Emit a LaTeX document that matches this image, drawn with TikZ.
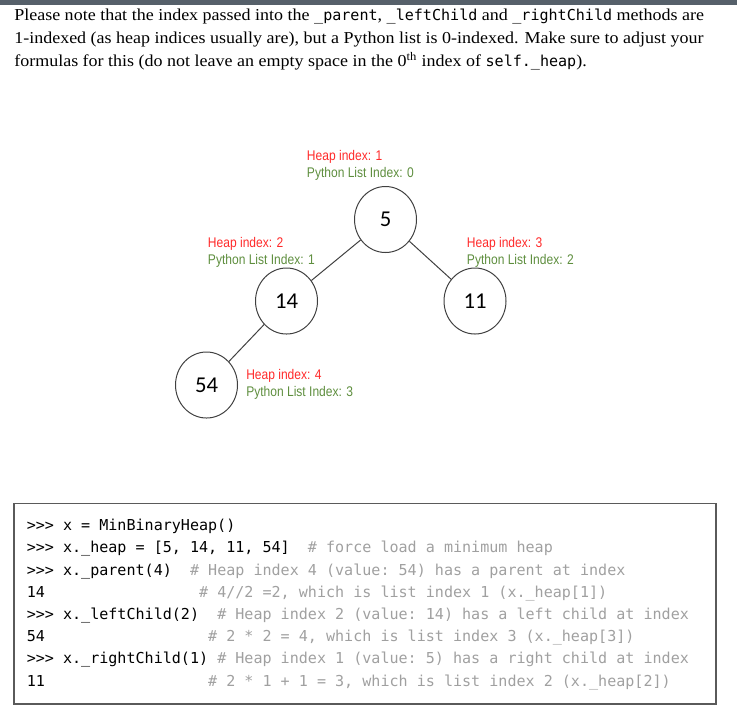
\documentclass[tikz,border=0pt]{standalone}
\usepackage{fontspec}
\setmainfont{Liberation Serif}[FakeStretch=1.08]
\setmonofont{DejaVu Sans Mono}
\newfontfamily\labelfont[FakeStretch=0.86]{Liberation Sans}
\newfontfamily\keyfont{Carlito}
\usetikzlibrary{shapes.geometric}

\definecolor{heapred}{HTML}{FF2A2A}
\definecolor{listgreen}{HTML}{5E8E3E}
\definecolor{commentgray}{HTML}{A0A0A0}
\definecolor{edgegray}{HTML}{404040}
\definecolor{barslate}{HTML}{56606A}
\definecolor{boxgray}{HTML}{5A5A5A}

\newcommand{\codefont}{\ttfamily\fontsize{11.3pt}{13pt}\selectfont}
\newcommand{\cmt}[1]{\textcolor{commentgray}{#1}}

\begin{document}
\begin{tikzpicture}[
        x=0.75pt, y=-0.75pt,
        prose/.style={anchor=base west, inner sep=0, font=\fontsize{12.5pt}{14pt}\selectfont},
        heapnode/.style={draw=edgegray, line width=0.75pt, ellipse, inner sep=0, minimum width=46.5pt, minimum height=49.5pt, font=\keyfont\fontsize{17pt}{20pt}\selectfont},
        indexlabel/.style={anchor=base west, inner sep=0, align=left, font=\labelfont\fontsize{10.5pt}{13.2pt}\selectfont},
        branch/.style={draw=edgegray, line width=0.75pt},
        codeline/.style={anchor=base west, inner sep=0, font=\codefont}
    ]
        \path[use as bounding box] (0, 0) rectangle (737, 719);
        \fill[barslate] (0, 0) rectangle (737, 4.5);

        % note above the tree
        \node[prose] (note1) at (14, 20.5) {Please note that the index passed into the {\codefont\_parent}, {\codefont\_leftChild} and {\codefont\_rightChild} methods are};
        \node[prose] (note2) at (14, 43.5) {1-indexed (as heap indices usually are), but a Python list is 0-indexed. Make sure to adjust your};
        \node[prose] (note3) at (14, 66.5) {formulas for this (do not leave an empty space in the 0\textsuperscript{th} index of {\codefont self.\_heap}).};

        % the heap
        \node[heapnode] (n5) at (385.5, 219.5) {5};
        \node[heapnode] (n14) at (286.5, 301) {14};
        \node[heapnode] (n11) at (475, 301) {11};
        \node[heapnode] (n54) at (206.5, 385) {54};

        \draw[branch] (n5) -- (n14);
        \draw[branch] (n5) -- (n11);
        \draw[branch] (n14) -- (n54);

        % base anchor sits on the second line
        \node[indexlabel] (lab5) at (306.7, 177.6) {\textcolor{heapred}{Heap index: 1}\\\textcolor{listgreen}{Python List Index: 0}};
        \node[indexlabel] (lab14) at (207.7, 264.9) {\textcolor{heapred}{Heap index: 2}\\\textcolor{listgreen}{Python List Index: 1}};
        \node[indexlabel] (lab11) at (466.7, 264.9) {\textcolor{heapred}{Heap index: 3}\\\textcolor{listgreen}{Python List Index: 2}};
        \node[indexlabel] (lab54) at (246, 396.9) {\textcolor{heapred}{Heap index: 4}\\\textcolor{listgreen}{Python List Index: 3}};

        % interpreter session
        \draw[draw=boxgray, line width=1pt] (14, 503.5) rectangle (716, 704);
        \node[codeline] (c1) at (26.5, 530.7) {>>> x = MinBinaryHeap()};
        \node[codeline] (c2) at (26.5, 552.9) {>>> x.\_heap = [5, 14, 11, 54]~~\cmt{\# force load a minimum heap}};
        \node[codeline] (c3) at (26.5, 575.1) {>>> x.\_parent(4)~~\cmt{\# Heap index 4 (value: 54) has a parent at index}};
        \node[codeline] (c4) at (26.5, 597.3) {14~~~~~~~~~~~~~~~~~\cmt{\# 4//2 =2, which is list index 1 (x.\_heap[1])}};
        \node[codeline] (c5) at (26.5, 619.5) {>>> x.\_leftChild(2)~~\cmt{\# Heap index 2 (value: 14) has a left child at index}};
        \node[codeline] (c6) at (26.5, 641.7) {54~~~~~~~~~~~~~~~~~~\cmt{\# 2 * 2 = 4, which is list index 3 (x.\_heap[3])}};
        \node[codeline] (c7) at (26.5, 663.9) {>>> x.\_rightChild(1)~\cmt{\# Heap index 1 (value: 5) has a right child at index}};
        \node[codeline] (c8) at (26.5, 686.1) {11~~~~~~~~~~~~~~~~~~\cmt{\# 2 * 1 + 1 = 3, which is list index 2 (x.\_heap[2])}};
    \end{tikzpicture}
\end{document}
